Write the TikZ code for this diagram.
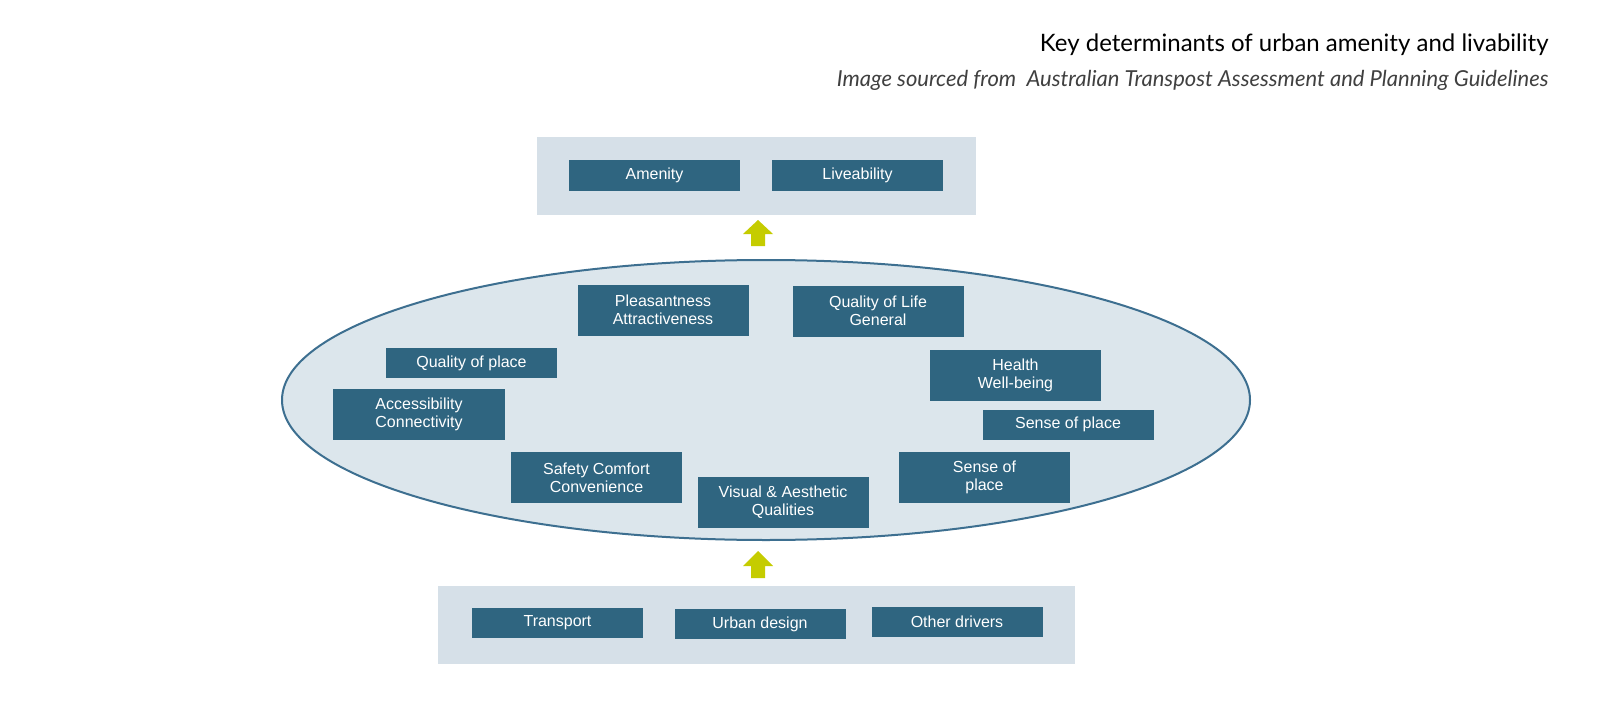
\documentclass[tikz,border=0pt]{standalone}
\usepackage{fontspec}
\setmainfont{Liberation Sans}
\newfontfamily\titlefont{Lato}
\definecolor{panel}{HTML}{D6E0E8}
\definecolor{ellfill}{HTML}{DCE6EC}
\definecolor{ellline}{HTML}{3D6F90}
\definecolor{boxc}{HTML}{2F6580}
\definecolor{arr}{HTML}{C5CC00}
\begin{document}
\begin{tikzpicture}[x=1pt,y=-1pt,
  bx/.style={fill=boxc,text=white,font=\fontsize{16}{18}\selectfont,align=center,inner sep=0pt},
  pn/.style={fill=panel,draw=none},
  up/.style={fill=arr,draw=none}]
\useasboundingbox (0,0) rectangle (1600,714);
\fill[white] (0,0) rectangle (1600,714);
\node[anchor=east,font=\titlefont\fontsize{24}{27}\selectfont] (t) at (1552,45) {Key determinants of urban amenity and livability};
\node[anchor=east,font=\titlefont\itshape\fontsize{22}{25}\selectfont,text=black!75] (s) at (1552,80) {Image sourced from\ \ Australian Transpost Assessment and Planning Guidelines};
% top panel
\path[pn] (537,137) rectangle (976,215);
\node[bx,minimum width=171,minimum height=31] (am) at (654.5,175.5) {Amenity};
\node[bx,minimum width=171,minimum height=31] (lv) at (857.5,175.5) {Liveability};
% arrows
\fill[arr] (751,246) -- (751,234) -- (743,234) -- (758,220) -- (773,234) -- (765,234) -- (765,246) -- cycle;
\fill[arr] (751,578) -- (751,566) -- (743,566) -- (758,551) -- (773,566) -- (765,566) -- (765,578) -- cycle;
% ellipse
\draw[fill=ellfill,draw=ellline,line width=2pt] (766,400) ellipse [x radius=484,y radius=140];
\tikzset{b2/.style={bx,minimum width=171,minimum height=51},b1/.style={bx,minimum width=171,minimum height=30}}
\node[b2] (pl) at (663,310) {Pleasantness\\Attractiveness};
\node[b2] (ql) at (878,311) {Quality of Life\\General};
\node[b1] (qp) at (471.5,363) {Quality of place};
\node[b2] (hw) at (1015.5,375) {Health\\Well-being};
\node[b2,minimum width=172] (ac) at (419,414.5) {Accessibility\\Connectivity};
\node[b1] (sp) at (1068,424.5) {Sense of place};
\node[b2] (sc) at (596.5,477.5) {Safety Comfort\\Convenience};
\node[b2] (sp2) at (984.5,477.5) {Sense of\\place};
\node[b2] (vq) at (783,502.5) {Visual \& Aesthetic\\Qualities};
% bottom panel
\path[pn] (438,586) rectangle (1075,664);
\node[b1] (tr) at (557.5,623) {Transport};
\node[b1] (ud) at (760,624) {Urban design};
\node[b1] (od) at (957,622) {Other drivers};
\end{tikzpicture}
\end{document}
